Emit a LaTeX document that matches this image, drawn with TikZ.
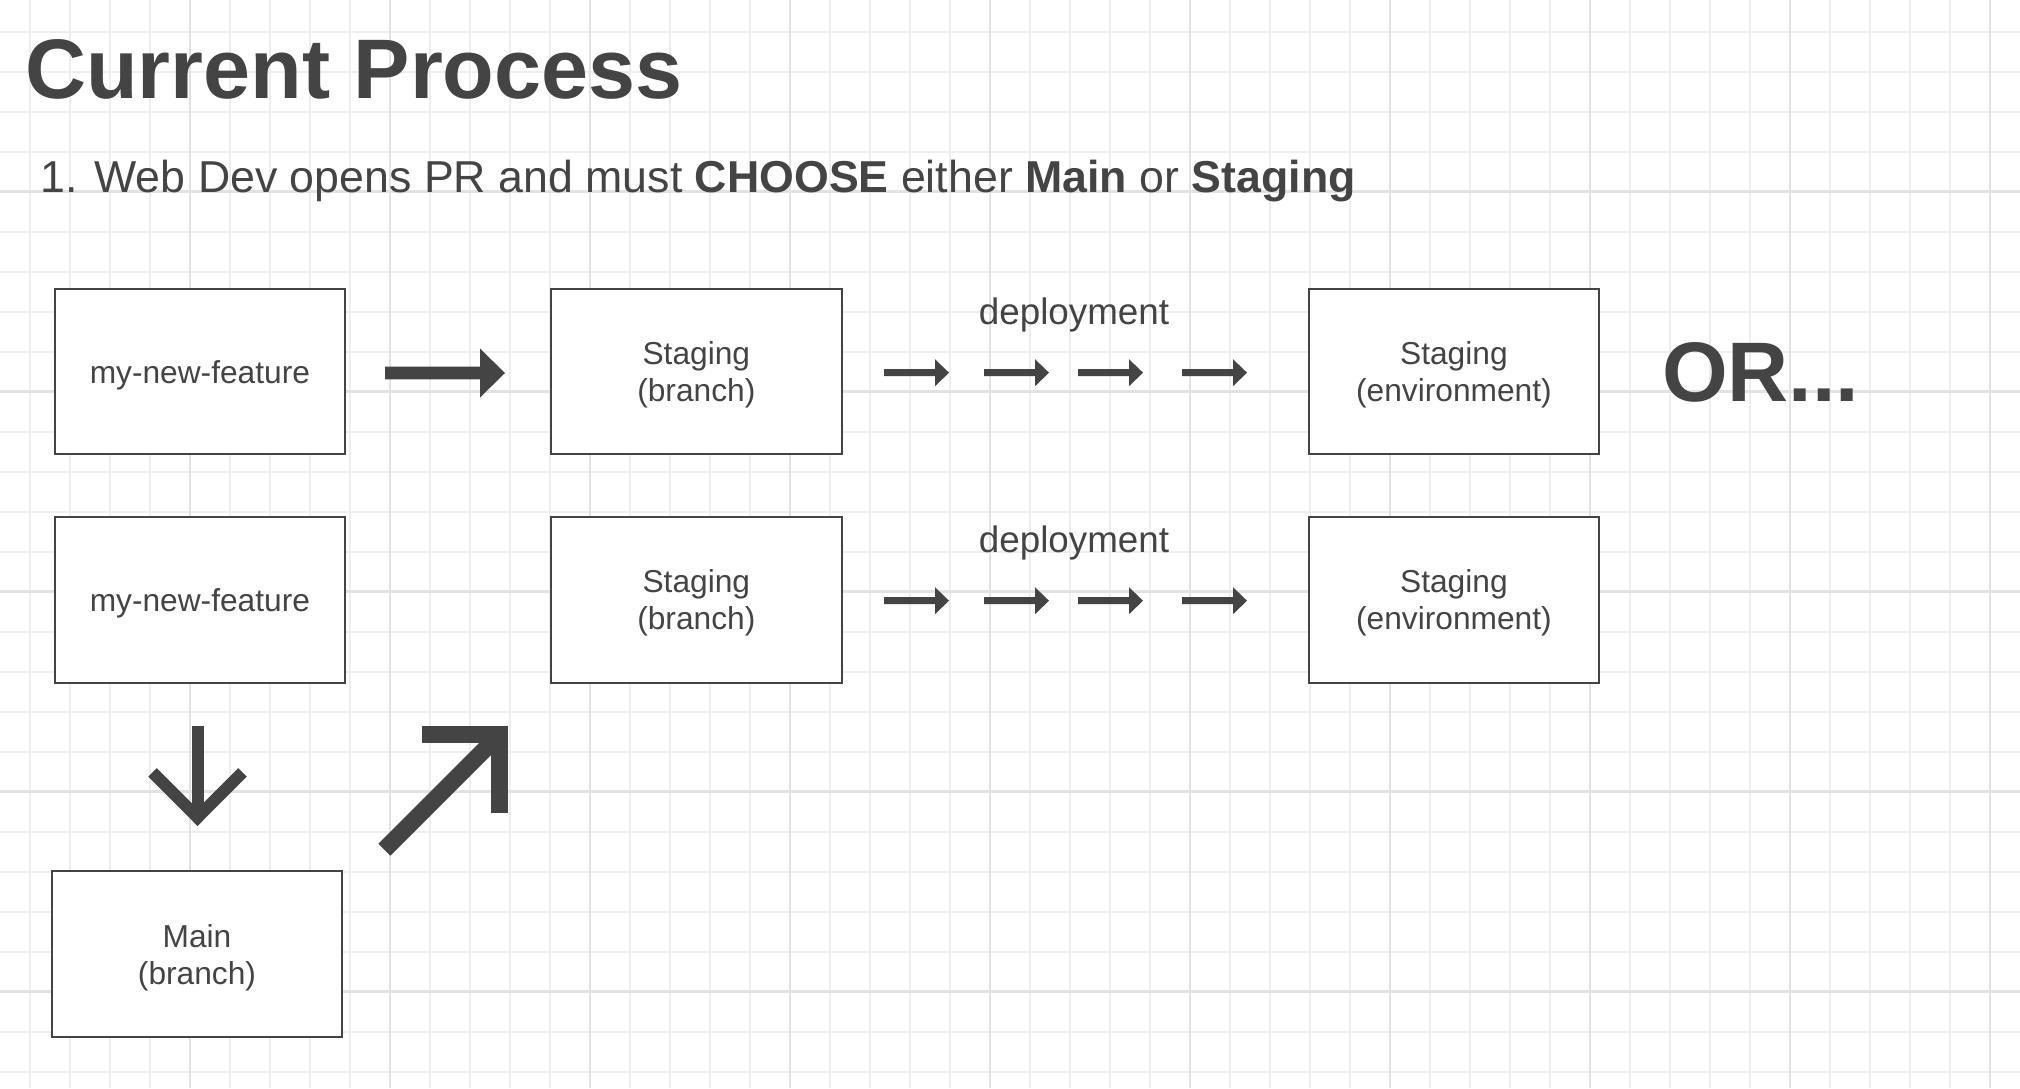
\documentclass[tikz,border=0pt]{standalone}
\usepackage{fontspec}
\setmainfont{Liberation Sans}
\definecolor{ink}{HTML}{444444}
\definecolor{gridminor}{HTML}{EEEEEE}
\definecolor{gridmajor}{HTML}{E2E2E2}
\newcommand\bxlift{\rule{0pt}{29.7pt}}
\tikzset{
  box/.style={draw=ink, line width=2pt, fill=white, minimum width=290.5pt,
    minimum height=165.5pt, inner sep=0pt, text=ink, align=center,
    font=\fontsize{31.7}{37}\selectfont},
  lbltext/.style={inner sep=0pt, text=ink, anchor=base},
  smallarrow/.pic={\fill[ink] (0,-3.5) -- (51,-3.5) -- (51,-13.5) -- (65,0)
    -- (51,13.5) -- (51,3.5) -- (0,3.5) -- cycle;},
  deployrow/.pic={
    \pic at (0,0) {smallarrow};
    \pic at (100,0) {smallarrow};
    \pic at (194,0) {smallarrow};
    \pic at (298,0) {smallarrow};
  }
}
\begin{document}
\begin{tikzpicture}[x=1pt,y=-1pt]
\useasboundingbox (0,0) rectangle (2020,1088);
\fill[white] (0,0) rectangle (2020,1088);
% grid
\foreach \i in {0,...,49} {\draw[gridminor, line width=2pt] ({30+40*\i},0) -- ({30+40*\i},1088);}
\foreach \i in {0,...,26} {\draw[gridminor, line width=2pt] (0,{31.7+40*\i}) -- (2020,{31.7+40*\i});}
\foreach \i in {0,...,9} {\draw[gridmajor, line width=2.5pt] ({190+200*\i},0) -- ({190+200*\i},1088);}
\foreach \i in {0,...,4} {\draw[gridmajor, line width=2.5pt] (0,{191.7+200*\i}) -- (2020,{191.7+200*\i});}

% texts
\node[lbltext, anchor=base west, font=\fontsize{84.5}{96}\selectfont\bfseries] (title) at (25,98) {Current Process};
\node[lbltext, anchor=base west, font=\fontsize{44.7}{52}\selectfont] (sub) at (40.5,192.7)
  {1. Web Dev opens PR and must \textbf{CHOOSE} either \textbf{Main} or \textbf{Staging}};

% boxes row 1
\node[box] (f1) at (199.9,371.7) {\bxlift my-new-feature};
\node[box] (s1) at (696.3,371.7) {\bxlift Staging\\(branch)};
\node[box] (e1) at (1453.9,371.7) {\bxlift Staging\\(environment)};
% boxes row 2
\node[box] (f2) at (199.9,599.8) {\bxlift my-new-feature};
\node[box] (s2) at (696.3,599.8) {\bxlift Staging\\(branch)};
\node[box] (e2) at (1453.9,599.8) {\bxlift Staging\\(environment)};
% main
\node[box] (m) at (197,954) {\bxlift Main\\(branch)};

% deployment labels
\node[lbltext, font=\fontsize{36.8}{43}\selectfont] (d1) at (1074,324) {deployment};
\node[lbltext, font=\fontsize{36.8}{43}\selectfont] (d2) at (1074,552) {deployment};

% OR...
\node[lbltext, anchor=base west, font=\fontsize{84.5}{96}\selectfont\bfseries] (or) at (1662,401) {OR...};

% big right arrow
\fill[ink] (385,366.7) -- (480,366.7) -- (480,348.5) -- (505,373) -- (480,397.5)
  -- (480,379.3) -- (385,379.3) -- cycle;

% deployment arrows
\pic at (884,372.7) {deployrow};
\pic at (884,600.7) {deployrow};

% down arrow
\draw[ink, line width=12pt] (197.5,726) -- (197.5,816);
\draw[ink, line width=12pt, miter limit=10] (152.5,772.3) -- (197.5,817.5) -- (242.5,772.3);

% diagonal arrow
\draw[ink, line width=17pt, miter limit=10] (421.5,734.5) -- (499.7,734.5) -- (499.7,812.7);
\draw[ink, line width=17pt] (384.3,849.7) -- (499.7,734.5);
\end{tikzpicture}
\end{document}
